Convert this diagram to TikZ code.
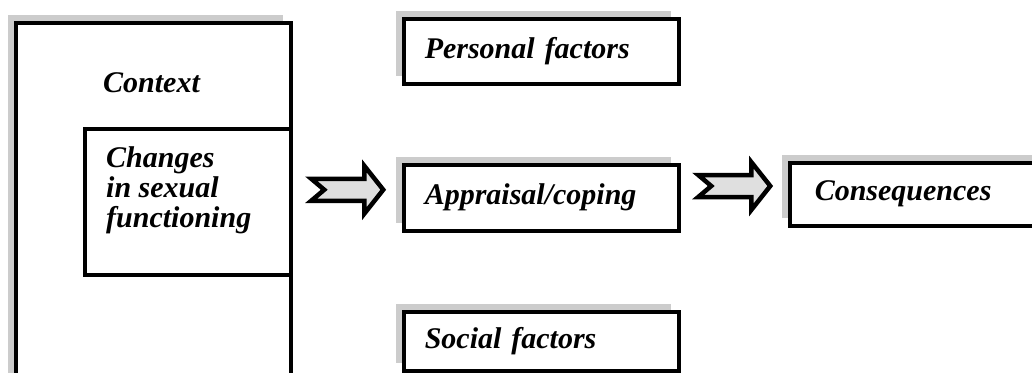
\documentclass[tikz,border=0pt]{standalone}
\usepackage{fontspec}
\setmainfont{Liberation Serif}
\usepackage{tikz}
\usetikzlibrary{calc}
\usetikzlibrary{shadows}

\tikzset{
	box/.style={draw, line width=3.5pt, fill=white, inner sep=0pt},
	shadowed/.style={drop shadow={shadow xshift=-8pt, shadow yshift=8pt, fill=gray!40, opacity=1}},
	fatarrow/.pic={
		\draw[line width=4.5pt, fill=gray!25, line join=miter]
			(-36,-11) -- (17,-11) -- (17,-24) -- (36,0) -- (17,24) -- (17,11) -- (-36,11) -- (-23,0) -- cycle;
	}
}

\begin{document}
\begin{tikzpicture}[x=1pt, y=-1pt, every node/.style={font=\fontsize{30}{30}\selectfont\bfseries\itshape}]
				\useasboundingbox (0,0) rectangle (1032,372);

				% context with the changes inside
				\node[box, shadowed, anchor=north west, minimum width=275pt, minimum height=420pt] (ctx) at (14,21) {};
				\node[inner sep=0pt, anchor=west] (ctxtext) at (103,83) {Context};
				\node[box, anchor=north west, minimum width=206pt, minimum height=146pt] (changes) at (83,127) {};
				\node[inner sep=0pt, anchor=north west, align=left] (changestext) at (106,146) {Changes\\in sexual\\functioning};

				% middle column
				\node[box, shadowed, anchor=north west, minimum height=65pt, text width=233pt, inner xsep=21pt, align=left] (personal) at (402,17) {Personal factors};
				\node[box, shadowed, anchor=north west, minimum height=66pt, text width=233pt, inner xsep=21pt, align=left] (appraisal) at (402,163) {Appraisal/coping};
				\node[box, shadowed, anchor=north west, minimum height=59pt, text width=233pt, inner xsep=21pt, align=left] (social) at (402,310) {Social factors};

				\node[box, shadowed, anchor=north west, minimum height=63pt, text width=250pt, inner xsep=25pt, align=left] (conseq) at (788,161) {Consequences};

				% block arrows
				\coordinate (a1) at (ctx.east |- appraisal.west);
				\pic at ($(a1)!0.5!(appraisal.west)+(0,-8)$) {fatarrow};
				\pic at ($(appraisal.east)!0.5!(conseq.west)+(0,-10)$) {fatarrow};
			\end{tikzpicture}
\end{document}
